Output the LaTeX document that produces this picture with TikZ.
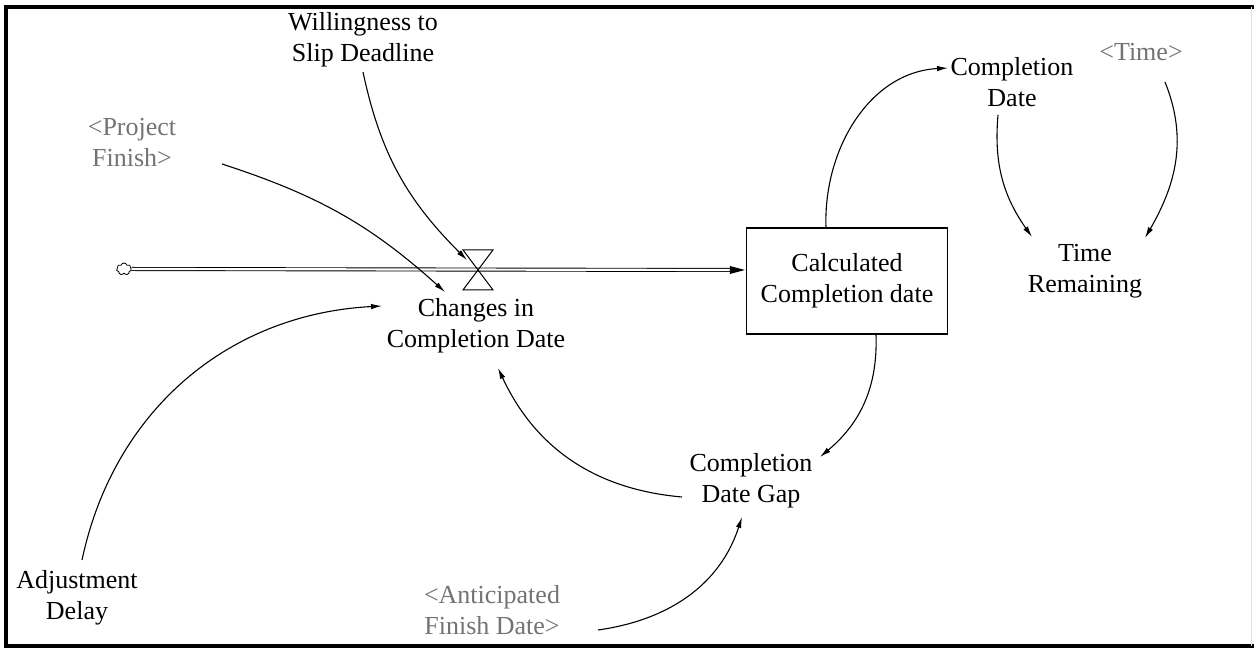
\documentclass[tikz,border=0pt]{standalone}
\usepackage{fontspec}
\setmainfont{Liberation Serif}
\usetikzlibrary{arrows.meta,shapes.symbols}

\begin{document}
\begin{tikzpicture}[x=1pt,y=1pt,
  var/.style={align=center, inner sep=0pt, font=\fontsize{26}{31}\selectfont},
  shadowvar/.style={var, text=black!55},
  link/.style={line width=1.1pt, -{Latex[length=11pt,width=5.5pt]}},
  stockbox/.style={draw, line width=1.3pt, minimum width=201pt, minimum height=106pt, inner sep=0pt},
  pipe/.style={draw=black, line width=0.9pt, double=white, double distance=2.2pt},
  frameline/.style={line width=4pt},
]
\useasboundingbox (0,0) rectangle (1254,653);

% outer frame
\draw[frameline] (4,646) -- (1254,646);
\draw[frameline] (6,648) -- (6,5);
\draw[frameline] (4,7) -- (1254,7);
\draw[black!12, line width=1pt] (1251,646) -- (1251,7);

% stock, source and flow
\node[stockbox, var] (box) at (847,372) {Calculated\\Completion date};
\node[cloud, cloud puffs=7, aspect=1.2, draw, line width=0.8pt, minimum width=15pt, minimum height=12pt, inner sep=0pt] (src) at (124,384) {};
\coordinate (valve) at (478,383);

\draw[pipe] (src.east) -- ([xshift=-13pt]box.west |- valve);
\fill ([xshift=-1pt]box.west |- valve) -- ++(-15,4) -- ++(0,-8) -- cycle;

% valve
\draw[line width=1pt] ([shift={(-15,20)}]valve) -- ([shift={(15,20)}]valve) -- ([shift={(-15,-20)}]valve) -- ([shift={(15,-20)}]valve) -- cycle;

% variables
\node[var] (will) at (363,613) {Willingness to\\Slip Deadline};
\node[shadowvar] (proj) at (132,510) {<Project\\Finish>};
\node[var] (chg) at (476,327) {Changes in\\Completion Date};
\node[var] (adj) at (77,55) {Adjustment\\Delay};
\node[var] (gap) at (751,172) {Completion\\Date Gap};
\node[shadowvar] (ant) at (492,43) {<Anticipated\\Finish Date>};
\node[var] (cdate) at (1012,571) {Completion\\Date};
\node[shadowvar] (time) at (1141,601) {<Time>};
\node[var] (trem) at (1085,382) {Time\\Remaining};

% information links
\draw[link] ([shift={(0,-32)}]will.center) to[out=-78,in=135] ([shift={(-11,10)}]valve);
\draw[link] ([shift={(90,-21)}]proj.center) to[out=-18,in=138] ([shift={(-31,34)}]chg.center);
\draw[link] ([shift={(5,38)}]adj.center) to[out=78,in=183] ([shift={(-94,20)}]chg.center);
\draw[link] ([shift={(-69,-16)}]gap.center) to[out=175,in=-65] ([shift={(22,-42)}]chg.center);
\draw[link] ([xshift=29pt]box.south) to[out=-88,in=40] ([shift={(69,24)}]gap.center);
\draw[link] ([shift={(106,-20)}]ant.center) to[out=8,in=-108] ([shift={(-9,-36)}]gap.center);
\draw[link] ([xshift=-21pt]box.north) to[out=92,in=183] ([shift={(-64,14)}]cdate.center);
\draw[link] ([shift={(-14,-33)}]cdate.center) to[out=-95,in=125] ([shift={(-53,34)}]trem.center);
\draw[link] ([shift={(24,-30)}]time.center) to[out=-68,in=60] ([shift={(60,33)}]trem.center);
\end{tikzpicture}
\end{document}
